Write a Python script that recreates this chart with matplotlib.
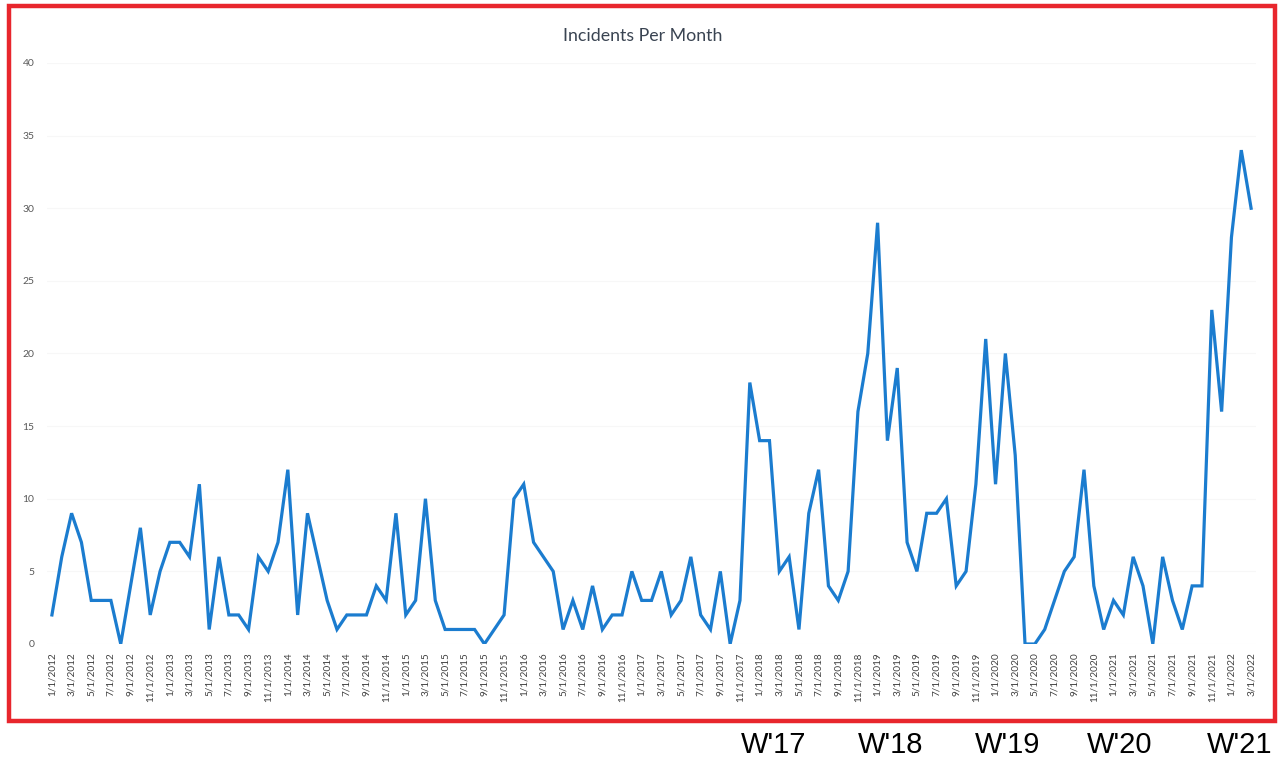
import matplotlib
matplotlib.use("Agg")
import matplotlib.pyplot as plt
import matplotlib.transforms as mtransforms
from matplotlib.patches import Rectangle

# ---- data ----
start_year, start_month = 2012, 1
incidents = [
    2, 6, 9, 7, 3, 3, 3, 0, 4, 8, 2, 5,        # 2012
    7, 7, 6, 11, 1, 6, 2, 2, 1, 6, 5, 7,       # 2013
    12, 2, 9, 6, 3, 1, 2, 2, 2, 4, 3, 9,       # 2014
    2, 3, 10, 3, 1, 1, 1, 1, 0, 1, 2, 10,      # 2015
    11, 7, 6, 5, 1, 3, 1, 4, 1, 2, 2, 5,       # 2016
    3, 3, 5, 2, 3, 6, 2, 1, 5, 0, 3, 18,       # 2017
    14, 14, 5, 6, 1, 9, 12, 4, 3, 5, 16, 20,   # 2018
    29, 14, 19, 7, 5, 9, 9, 10, 4, 5, 11, 21,  # 2019
    11, 20, 13, 0, 0, 1, 3, 5, 6, 12, 4, 1,    # 2020
    3, 2, 6, 4, 0, 6, 3, 1, 4, 4, 23, 16,      # 2021
    28, 34, 30,                                # 2022
]
months = []
y, m = start_year, start_month
for _ in incidents:
    months.append(f"{m}/1/{y}")
    m += 1
    if m > 12:
        m = 1
        y += 1

y_ticks = [0, 5, 10, 15, 20, 25, 30, 35, 40]
title = "Incidents Per Month"
season_labels = ["W'17", "W'18", "W'19", "W'20", "W'21"]
season_pos = [73.4, 85.3, 97.2, 108.6, 120.8]

# ---- figure ----
fig = plt.figure(figsize=(12.81, 7.58), dpi=100)
fig.patch.set_facecolor("white")
ax = fig.add_axes([0.0367, 0.1504, 0.9438, 0.7665])

x = list(range(len(incidents)))
ax.plot(x, incidents, color="#1b7ccf", lw=2.3, solid_joinstyle="miter")

ax.set_xlim(-0.5, len(incidents) - 0.5)
ax.set_ylim(0, 40)
ax.set_yticks(y_ticks)
ax.set_yticklabels([str(v) for v in y_ticks], fontsize=7.5, color="#595959", family="Lato")
ax.set_xticks(x[::2])
ax.set_xticklabels(months[::2], rotation=90, fontsize=7.2, color="#404040", family="Lato")
ax.tick_params(axis="both", length=0)
ax.tick_params(axis="y", pad=9)
ax.tick_params(axis="x", pad=6)
ax.grid(axis="y", color="#f7f7f7", lw=0.8)
ax.set_axisbelow(True)
for s in ax.spines.values():
    s.set_visible(False)

fig.text(0.502, 0.953, title, ha="center", va="center", fontsize=12.8,
         color="#3a4452", family="Lato")

# red frame
fig.patches.append(Rectangle((9 / 1281, 1 - 721 / 758), (1275 - 9) / 1281, (721 - 6) / 758,
                             transform=fig.transFigure, fill=False,
                             edgecolor="#e8262d", lw=3.2))

# season labels below frame
trans = mtransforms.blended_transform_factory(ax.transData, fig.transFigure)
for lab, p in zip(season_labels, season_pos):
    ax.text(p, 1 - 745 / 758, lab, transform=trans, ha="center", va="center",
            fontsize=21, color="black", family="Liberation Sans", clip_on=False)

fig.savefig("out.png", dpi=100)
